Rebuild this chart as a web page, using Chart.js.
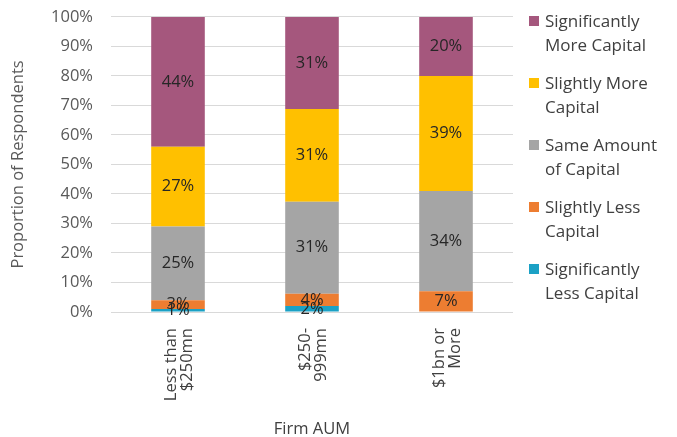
<!DOCTYPE html>
<html>
<head>
<meta charset="utf-8">
<script src="https://cdn.jsdelivr.net/npm/chart.js@4.4.1/dist/chart.umd.min.js"></script>
<style>
  html, body { margin: 0; padding: 0; background: #fff; }
  #wrap { position: relative; width: 677px; height: 437px; }
  #legend { position: absolute; left: 529px; top: 9px; font-family: 'Open Sans', sans-serif; font-size: 17px; color: #404040; }
  .lg-item { position: relative; padding-left: 16px; line-height: 24px; margin-bottom: 14px; }
  .lg-box { position: absolute; left: 0; top: 7px; width: 10px; height: 10px; }
</style>
</head>
<body>
<div id="wrap">
  <canvas id="chart" width="677" height="437"></canvas>
  <div id="legend"></div>
</div>
<script>
// categories (two-line tick labels)
const categories = [['Less than', '$250mn'], ['$250-', '999mn'], ['$1bn or', 'More']];
const yTicks = [0, 10, 20, 30, 40, 50, 60, 70, 80, 90, 100];

// series, bottom to top of the stack (percent of respondents)
const sigLess   = [1, 2, 0];
const sliLess   = [3, 4.2, 7];
const same      = [25, 31.2, 34];
const sliMore   = [27, 31.4, 39];
const sigMore   = [44, 31.2, 20];

const seriesNames = [
  ['Significantly', 'Less Capital'],
  ['Slightly Less', 'Capital'],
  ['Same Amount', 'of Capital'],
  ['Slightly More', 'Capital'],
  ['Significantly', 'More Capital'],
];
const seriesData = [sigLess, sliLess, same, sliMore, sigMore];
const seriesCol  = ['#1BA1C5', '#ED7D31', '#A5A5A5', '#FFC000', '#A5577D'];

const FONT = "'Open Sans', sans-serif";
const FS = 16.5;

// labels in the middle of each segment
const segLabels = {
  id: 'segLabels',
  afterDatasetsDraw(chart) {
    const ctx = chart.ctx;
    ctx.save();
    ctx.font = FS + 'px ' + FONT;
    ctx.fillStyle = '#262626';
    ctx.textAlign = 'center';
    ctx.textBaseline = 'middle';
    chart.data.datasets.forEach((ds, i) => {
      chart.getDatasetMeta(i).data.forEach((bar, j) => {
        const v = ds.data[j];
        if (!v) return;
        const mid = (bar.y + bar.base) / 2;
        ctx.fillText(Math.round(v) + '%', bar.x, mid);
      });
    });
    ctx.restore();
  }
};

new Chart(document.getElementById('chart'), {
  type: 'bar',
  data: {
    labels: categories,
    datasets: seriesData.map((d, i) => ({
      label: seriesNames[i].join(' '),
      data: d,
      backgroundColor: seriesCol[i],
      borderWidth: 0,
      barPercentage: 0.4,
      categoryPercentage: 1,
    })),
  },
  options: {
    responsive: false,
    animation: false,
    layout: { padding: { top: 0, right: 164, left: 0, bottom: -6 } },
    plugins: { legend: { display: false }, tooltip: { enabled: false } },
    scales: {
      x: {
        stacked: true,
        grid: { display: false },
        border: { display: false },
        ticks: { minRotation: 90, maxRotation: 90, labelOffset: -7, font: { family: FONT, size: FS, lineHeight: 1.0 }, color: '#404040', padding: 8 },
        title: { display: true, text: 'Firm AUM', font: { family: FONT, size: FS }, color: '#404040', padding: { top: 10 } },
      },
      y: {
        stacked: true,
        min: 0,
        max: 100,
        afterBuildTicks: axis => { axis.ticks = yTicks.map(v => ({ value: v })); },
        afterFit: axis => { axis.width = 111; },
        grid: { color: '#D9D9D9', drawTicks: true, tickLength: 11, tickColor: 'rgba(0,0,0,0)' },
        border: { display: false },
        ticks: { font: { family: FONT, size: FS }, color: '#595959', padding: 7, callback: v => v + '%' },
        title: { display: true, text: 'Proportion of Respondents', font: { family: FONT, size: FS }, color: '#595959', padding: { top: 8, bottom: 6 } },
      },
    },
  },
  plugins: [segLabels],
});

// legend, top entry first
document.getElementById('legend').innerHTML = seriesNames.map((n, i) => `
  <div class="lg-item"><span class="lg-box" style="background:${seriesCol[i]}"></span>${n[0]}<br>${n[1]}</div>`).reverse().join('');
</script>
</body>
</html>
